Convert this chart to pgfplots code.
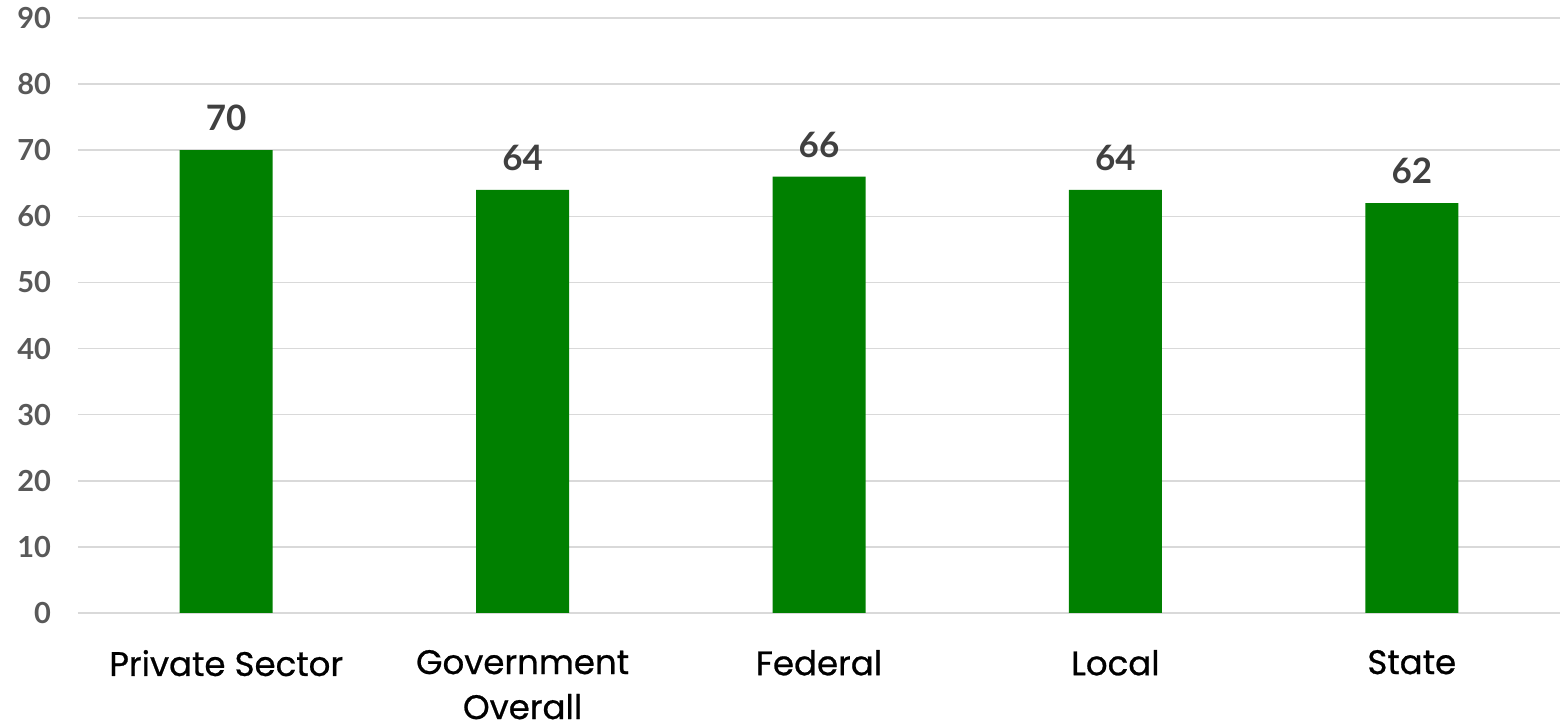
\documentclass[border=0pt]{standalone}
\usepackage{fontspec}
\setmainfont{Lato}
\newfontfamily\catfont{Poppins}[FakeBold=0.7]
\newfontfamily\numfont{Lato Bold}
\usepackage{pgfplots}
\pgfplotsset{compat=1.18}
\usetikzlibrary{calc}
\definecolor{bargreen}{RGB}{0,128,0}
\definecolor{gridgray}{RGB}{217,217,217}
\definecolor{ticktext}{RGB}{89,89,89}
\definecolor{labeltext}{RGB}{64,64,64}
\begin{document}
\begin{tikzpicture}
\begin{axis}[
  name=ax,
  scale only axis,
  width=741pt, height=297.5pt,
  xmin=-0.5, xmax=4.5,
  ymin=0, ymax=90,
  ytick={0,10,...,90},
  xtick={0,1,2,3,4},
  xticklabels={Private Sector,{Government\\Overall},Federal,Local,State},
  xticklabel style={font=\catfont\fontsize{17}{22.5}\selectfont, text=black, align=center, anchor=north, yshift=-15pt},
  yticklabel style={font=\numfont\fontsize{14.5}{16}\selectfont, text=ticktext, anchor=east, xshift=-10pt},
  /pgf/number format/assume math mode=true,
  axis line style={draw=none},
  major tick length=0pt,
  ymajorgrids,
  grid style={gridgray, line width=0.8pt},
  ybar,
  bar width=46.5pt,
  nodes near coords,
  nodes near coords style={font=\numfont\fontsize{17.5}{20}\selectfont, text=labeltext, anchor=south, yshift=6pt},
  clip=false,
]
\addplot[fill=bargreen, draw=none] coordinates {(0,70) (1,64) (2,66) (3,64) (4,62)};
\end{axis}
\pgfresetboundingbox
\path ($(ax.south west)+(-39pt,-56pt)$) rectangle ($(ax.north east)+(0,9pt)$);
\end{tikzpicture}
\end{document}
